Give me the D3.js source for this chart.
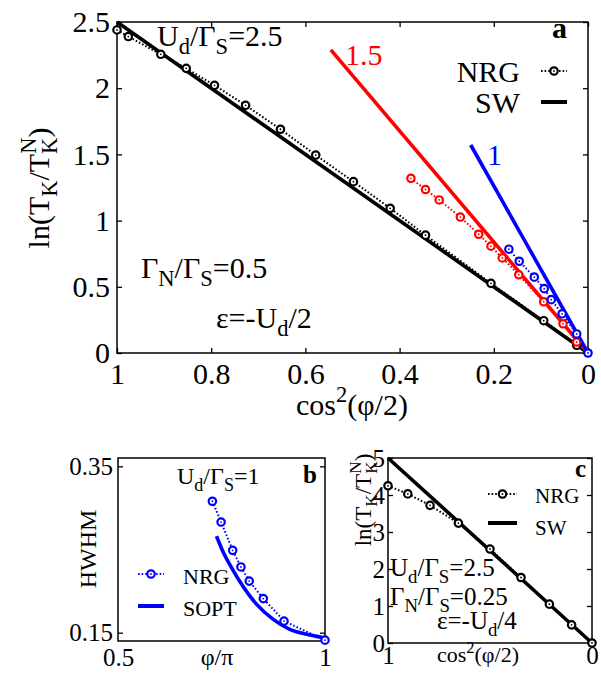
<!DOCTYPE html>
<html>
<head>
<meta charset="utf-8">
<script src="https://cdn.jsdelivr.net/npm/d3@7"></script>
<style>
  body { margin: 0; background: #fff; }
  svg { display: block; }
  text { font-family: "Liberation Serif", "Times New Roman", serif; fill: #000; }
</style>
</head>
<body>
<svg id="fig" width="601" height="673"></svg>
<script>
// ---------- panel a: ln(T_K/T_K^N) vs cos^2(phi/2) ----------
const aNrgBlackX = [1.0, 0.976, 0.907, 0.853, 0.793, 0.727, 0.653, 0.578, 0.498, 0.420, 0.345, 0.206, 0.094, 0.024];
const aNrgBlackY = [2.44, 2.39, 2.256, 2.15, 2.022, 1.871, 1.69, 1.495, 1.294, 1.093, 0.89, 0.526, 0.244, 0.058];
const aNrgRedX = [0.376, 0.345, 0.316, 0.271, 0.232, 0.206, 0.182, 0.147, 0.094, 0.053, 0.024];
const aNrgRedY = [1.319, 1.235, 1.156, 1.027, 0.897, 0.807, 0.718, 0.591, 0.387, 0.221, 0.083];
const aNrgBlueX = [0.168, 0.146, 0.114, 0.093, 0.078, 0.055, 0.024, 0.0];
const aNrgBlueY = [0.784, 0.693, 0.573, 0.486, 0.403, 0.296, 0.144, 0.0];
const aSwBlackX = [1.0, 0.0];
const aSwBlackY = [2.5, 0.0];
const aSwRedX = [0.546, 0.0];
const aSwRedY = [2.29, 0.0];
const aSwBlueX = [0.249, 0.0];
const aSwBlueY = [1.571, 0.0];
const aXTicks = [1, 0.8, 0.6, 0.4, 0.2, 0];
const aYTicks = [0, 0.5, 1, 1.5, 2, 2.5];

// ---------- panel b: HWHM vs phi/pi ----------
const bNrgPhi = [0.728, 0.749, 0.777, 0.797, 0.817, 0.851, 0.901, 1.0];
const bNrgHwhm = [0.308, 0.283, 0.249, 0.229, 0.212, 0.191, 0.164, 0.141];
const bSoptPhi = [0.738, 0.754, 0.778, 0.803, 0.835, 0.875, 0.915, 0.956, 0.996];
const bSoptHwhm = [0.266, 0.247, 0.225, 0.205, 0.184, 0.166, 0.154, 0.148, 0.144];
const bXTicks = [0.5, 1];
const bYTicks = [0.15, 0.35];

// ---------- panel c: ln(T_K/T_K^N) vs cos^2(phi/2) ----------
const cNrgX = [1.0, 0.903, 0.794, 0.655, 0.5, 0.348, 0.209, 0.100, 0.0];
const cNrgY = [4.25, 4.03, 3.72, 3.24, 2.54, 1.77, 1.05, 0.49, 0.0];
const cSwX = [1.0, 0.0];
const cSwY = [5.0, 0.0];
const cXTicks = [1, 0];
const cYTicks = [0, 1, 2, 3, 4, 5];

const svg = d3.select("#fig");
const BLACK = "#000", RED = "#ff0000", BLUE = "#0000ff";
const fmt = d3.format("~g");

// Text with subscripts / superscripts. parts: [string, kind, backEm]
// kind: "" normal, "b" subscript, "p" superscript; backEm shifts left to stack.
function rich(g, x, y, parts, size, anchor, rotate) {
  const t = g.append("text").attr("font-size", size);
  if (rotate) {
    t.attr("transform", `translate(${x},${y}) rotate(-90)`).attr("x", 0).attr("y", 0);
  } else {
    t.attr("x", x).attr("y", y);
  }
  if (anchor) t.attr("text-anchor", anchor);
  let off = 0;
  parts.forEach(([s, kind, back]) => {
    const fs = kind ? size * 0.75 : size;
    const target = kind === "b" ? size * 0.28 : kind === "p" ? -size * 0.42 : 0;
    const ts = t.append("tspan").text(s).attr("font-size", fs).attr("dy", target - off);
    if (back) ts.attr("dx", -back * size);
    off = target;
  });
  return t;
}

function makePanel(box, xDom, yDom, opt) {
  const g = svg.append("g");
  const x = d3.scaleLinear().domain(xDom).range([box.l, box.r]);
  const y = d3.scaleLinear().domain(yDom).range([box.b, box.t]);
  const tick = opt.tick;

  const styleAxis = (sel, fs) => {
    sel.select(".domain").remove();
    sel.selectAll(".tick line").attr("stroke", BLACK).attr("stroke-width", 1.3);
    sel.selectAll(".tick text").attr("font-size", fs).attr("fill", BLACK)
      .attr("font-family", '"Liberation Serif", "Times New Roman", serif');
  };

  g.append("g").attr("transform", `translate(0,${box.b})`)
    .call(d3.axisBottom(x).tickValues(opt.xTicks).tickFormat(fmt)
      .tickSizeInner(-opt.xTickLen).tickSizeOuter(0).tickPadding(opt.xPad))
    .call(s => styleAxis(s, opt.fs));
  g.append("g").attr("transform", `translate(0,${box.t})`)
    .call(d3.axisTop(x).tickValues(opt.xTicks).tickFormat("")
      .tickSizeInner(-opt.xTickLen).tickSizeOuter(0))
    .call(s => styleAxis(s, opt.fs));
  g.append("g").attr("transform", `translate(${box.l},0)`)
    .call(d3.axisLeft(y).tickValues(opt.yTicks).tickFormat(fmt)
      .tickSizeInner(-tick).tickSizeOuter(0).tickPadding(opt.yPad))
    .call(s => styleAxis(s, opt.fs));
  g.append("g").attr("transform", `translate(${box.r},0)`)
    .call(d3.axisRight(y).tickValues(opt.yTicks).tickFormat("")
      .tickSizeInner(-tick).tickSizeOuter(0))
    .call(s => styleAxis(s, opt.fs));

  g.append("rect").attr("x", box.l).attr("y", box.t)
    .attr("width", box.r - box.l).attr("height", box.b - box.t)
    .attr("fill", "none").attr("stroke", BLACK).attr("stroke-width", 1.5);

  return { g, x, y };
}

function solid(p, xs, ys, color, w, curve) {
  const line = d3.line().x(d => p.x(d[0])).y(d => p.y(d[1]));
  if (curve) line.curve(curve);
  p.g.append("path").datum(d3.zip(xs, ys)).attr("d", line)
    .attr("fill", "none").attr("stroke", color).attr("stroke-width", w)
    .attr("stroke-linecap", "butt");
}

function nrg(p, xs, ys, color) {
  const line = d3.line().x(d => p.x(d[0])).y(d => p.y(d[1]));
  const data = d3.zip(xs, ys);
  p.g.append("path").datum(data).attr("d", line)
    .attr("fill", "none").attr("stroke", color).attr("stroke-width", 2)
    .attr("stroke-dasharray", "1.6,2");
  marker(p.g, data.map(d => [p.x(d[0]), p.y(d[1])]), color);
}

function marker(g, pts, color) {
  const m = g.append("g").selectAll("g").data(pts).join("g")
    .attr("transform", d => `translate(${d[0]},${d[1]})`);
  m.append("circle").attr("r", 3.7).attr("fill", "#fff")
    .attr("stroke", color).attr("stroke-width", 2.2);
  m.append("circle").attr("r", 0.9).attr("fill", color);
}

function legendNrg(g, x1, x2, y, color) {
  g.append("line").attr("x1", x1).attr("x2", x2).attr("y1", y).attr("y2", y)
    .attr("stroke", color).attr("stroke-width", 2).attr("stroke-dasharray", "1.6,2");
  marker(g, [[(x1 + x2) / 2, y]], color);
}
function legendLine(g, x1, x2, y, color) {
  g.append("line").attr("x1", x1).attr("x2", x2).attr("y1", y).attr("y2", y)
    .attr("stroke", color).attr("stroke-width", 4);
}

// ================= panel a =================
const pa = makePanel({ l: 117, r: 588, t: 22, b: 353 }, [1, 0], [0, 2.5],
  { xTicks: aXTicks, yTicks: aYTicks, tick: 5, xTickLen: 5, fs: 30, xPad: 10, yPad: 7 });

solid(pa, aSwBlackX, aSwBlackY, BLACK, 3.6);
solid(pa, aSwRedX, aSwRedY, RED, 3.6);
solid(pa, aSwBlueX, aSwBlueY, BLUE, 3.6);
nrg(pa, aNrgBlackX, aNrgBlackY, BLACK);
nrg(pa, aNrgRedX, aNrgRedY, RED);
nrg(pa, aNrgBlueX, aNrgBlueY, BLUE);

rich(pa.g, 157, 46, [["U"], ["d", "b"], ["/Γ"], ["S", "b"], ["=2.5"]], 30);
rich(pa.g, 141, 278, [["Γ"], ["N", "b"], ["/Γ"], ["S", "b"], ["=0.5"]], 30);
rich(pa.g, 216, 328, [["ε=-U"], ["d", "b"], ["/2"]], 30);
pa.g.append("text").attr("x", 345).attr("y", 65).attr("font-size", 30).style("fill", RED).text("1.5");
pa.g.append("text").attr("x", 487).attr("y", 165).attr("font-size", 30).style("fill", BLUE).text("1");
pa.g.append("text").attr("x", 552).attr("y", 38).attr("font-size", 30)
  .attr("font-weight", "bold").text("a");
pa.g.append("text").attr("x", 520).attr("y", 82).attr("font-size", 30)
  .attr("text-anchor", "end").text("NRG");
pa.g.append("text").attr("x", 520).attr("y", 113).attr("font-size", 30)
  .attr("text-anchor", "end").text("SW");
legendNrg(pa.g, 541, 567, 71, BLACK);
legendLine(pa.g, 541, 567, 102, BLACK);
rich(pa.g, 352, 415, [["cos"], ["2", "p"], ["(φ/2)"]], 30, "middle");
rich(pa.g, 49, 188, [["ln(T"], ["K", "b"], ["/T"], ["K", "b"], ["N", "p", 0.54], [")"]], 30, "middle", true);

// ================= panel b =================
const pb = makePanel({ l: 118, r: 325, t: 458, b: 641 }, [0.5, 1], [0.14, 0.36],
  { xTicks: bXTicks, yTicks: bYTicks, tick: 5, xTickLen: 0, fs: 25, xPad: 7, yPad: 5 });

solid(pb, bSoptPhi, bSoptHwhm, BLUE, 3.6, d3.curveMonotoneX);
nrg(pb, bNrgPhi, bNrgHwhm, BLUE);

rich(pb.g, 177, 484, [["U"], ["d", "b"], ["/Γ"], ["S", "b"], ["=1"]], 24);
pb.g.append("text").attr("x", 303).attr("y", 483).attr("font-size", 25)
  .attr("font-weight", "bold").text("b");
legendNrg(pb.g, 138, 164, 574, BLUE);
legendLine(pb.g, 138, 164, 606, BLUE);
pb.g.append("text").attr("x", 183).attr("y", 584).attr("font-size", 22).text("NRG");
pb.g.append("text").attr("x", 183).attr("y", 616).attr("font-size", 22).text("SOPT");
pb.g.append("text").attr("x", 217).attr("y", 665).attr("font-size", 24)
  .attr("text-anchor", "middle").text("φ/π");
pb.g.append("text").attr("transform", "translate(96,549) rotate(-90)")
  .attr("font-size", 24).attr("text-anchor", "middle").text("HWHM");

// ================= panel c =================
const pc = makePanel({ l: 388, r: 592, t: 458, b: 643 }, [1, 0], [0, 5],
  { xTicks: cXTicks, yTicks: cYTicks, tick: 5, xTickLen: 0, fs: 25, xPad: 3, yPad: 3 });

solid(pc, cSwX, cSwY, BLACK, 3.6);
nrg(pc, cNrgX, cNrgY, BLACK);

rich(pc.g, 390, 576, [["U"], ["d", "b"], ["/Γ"], ["S", "b"], ["=2.5"]], 25);
rich(pc.g, 390, 605, [["Γ"], ["N", "b"], ["/Γ"], ["S", "b"], ["=0.25"]], 25);
rich(pc.g, 437, 629, [["ε=-U"], ["d", "b"], ["/4"]], 25);
pc.g.append("text").attr("x", 575).attr("y", 477).attr("font-size", 25)
  .attr("font-weight", "bold").text("c");
legendNrg(pc.g, 488, 517, 494, BLACK);
legendLine(pc.g, 488, 517, 523, BLACK);
pc.g.append("text").attr("x", 535).attr("y", 503).attr("font-size", 21).text("NRG");
pc.g.append("text").attr("x", 535).attr("y", 535).attr("font-size", 21).text("SW");
rich(pc.g, 478, 662, [["cos"], ["2", "p"], ["(φ/2)"]], 22, "middle");
rich(pc.g, 371, 500, [["ln(T"], ["K", "b"], ["/T"], ["K", "b"], ["N", "p", 0.54], [")"]], 23, "middle", true);
</script>
</body>
</html>
